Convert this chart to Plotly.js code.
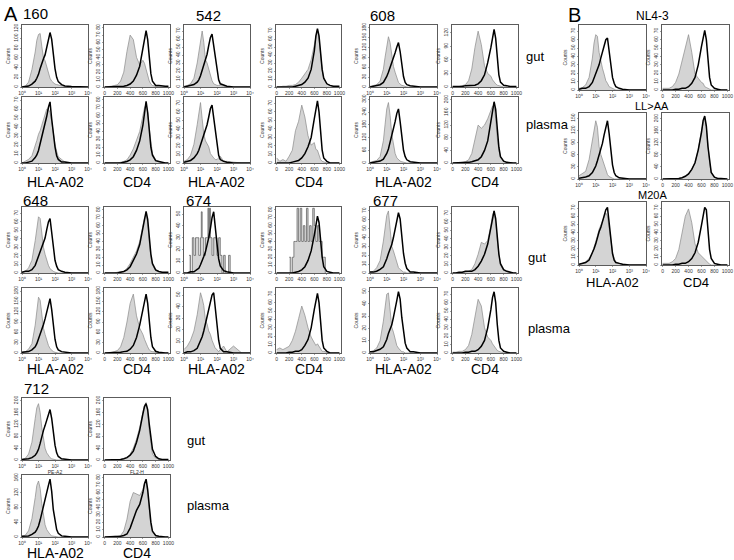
<!DOCTYPE html>
<html><head><meta charset="utf-8">
<script src="https://cdn.plot.ly/plotly-3.0.1.min.js"></script>
<style>html,body{margin:0;padding:0;background:#fff}#chart{width:734px;height:560px}</style>
</head><body><div id="chart"></div>
<script>
// ---------- shared x grids ----------
const hlaX = [1,1.6,2.5,4,6.3,7.9,10,12.6,15.8,20,25,31.6,40,50,63,79,100,126,158,251,398,1000,3160,10000];
const cd4X = [0,50,100,150,200,250,300,350,400,450,500,550,600,625,650,675,700,725,750,800,850,900,950,1000];
const spikeHlaX = [2.0,2.5,3.2,4.0,5.0,6.3,7.9,10,11.2,12.6,14.1,15.8,20,25,28.2,31.6,35.5,40,50,63,79,100,126,158,200,251,316,398,501,631,794,1000];
const spikeCd4X = [200,225,250,275,300,325,350,375,400,425,450,475,500,525,550,575,600,625,650,675,700,725,750,775];

// ---------- sample 160 ----------
const s160_gut_hla_fill  = [1,2,10,36,72,96,108,110,84,60,54,42,26,18,12,8,6,5,4,2,1,0,0,0];
const s160_gut_hla_line  = [0,1,2,6,12,18,26,38,50,58,66,82,96,112,98,66,38,20,11,5,2,1,0,0];
const s160_gut_cd4_fill  = [0,0,1,2,3,8,20,48,70,64,40,30,36,32,24,16,8,4,2,1,0,0,0,0];
const s160_gut_cd4_line  = [0,0,0,0,0,0,1,2,4,8,16,28,52,68,76,64,36,18,8,2,2,1,1,1];
const s160_pla_hla_fill  = [0,2,4,8,18,25,32,36,42,48,52,60,60,56,46,32,21,13,7,4,1,0,0,0];
const s160_pla_hla_line  = [0,0,1,2,6,9,14,21,28,35,42,52,62,68,49,32,18,8,4,1,1,0,0,0];
const s160_pla_cd4_fill  = [0,0,0,0,0,1,2,4,10,18,28,40,60,70,74,64,44,24,12,4,2,0,0,0];
const s160_pla_cd4_line  = [0,0,0,0,0,0,1,2,4,8,16,28,48,66,78,64,40,20,10,3,2,1,0,0];
// ---------- sample 542 ----------
const s542_gut_hla_fill  = [1,2,4,11,30,45,60,70,56,34,30,22,14,8,4,3,2,2,2,1,0,0,0,0];
const s542_gut_hla_line  = [0,1,2,3,6,9,14,21,30,36,41,52,62,66,52,34,19,9,4,2,1,0,0,0];
const s542_gut_cd4_fill  = [0,0,1,1,2,2,3,6,11,16,22,34,52,64,71,60,38,21,11,4,2,1,0,0];
const s542_gut_cd4_line  = [0,0,0,0,0,0,1,2,3,6,11,22,45,64,73,64,41,22,11,4,2,1,1,1];
const s542_pla_hla_fill  = [2,4,9,22,45,60,71,52,34,26,22,19,11,8,6,4,4,6,8,2,2,1,0,0];
const s542_pla_hla_line  = [1,2,3,6,11,15,21,26,32,38,45,54,64,68,52,34,19,9,4,2,1,0,0,0];
const s542_pla_cd4_fill  = [6,2,4,2,8,15,38,49,68,54,32,21,24,16,15,8,4,2,1,0,0,0,0,0];
const s542_pla_cd4_line  = [0,0,0,0,0,1,2,3,6,11,19,30,52,64,73,60,34,15,6,2,0,0,0,0];
// ---------- sample 608 ----------
const s608_gut_hla_fill  = [2,4,7,18,54,90,126,153,135,90,63,45,27,14,9,5,4,2,0,0,0,0,0,0];
const s608_gut_hla_line  = [0,2,4,7,14,22,32,45,59,72,86,104,122,135,108,63,32,14,7,4,2,0,0,0];
const s608_gut_cd4_fill  = [1,1,1,3,5,14,40,88,124,94,47,30,24,16,11,7,4,3,1,0,0,0,0,0];
const s608_gut_cd4_line  = [1,1,1,1,3,3,3,4,7,14,27,54,88,111,128,108,61,27,11,4,3,1,1,1];
const s608_pla_hla_fill  = [3,6,12,30,105,180,255,285,225,135,84,45,24,15,9,6,3,0,0,0,0,0,0,0];
const s608_pla_hla_line  = [0,3,6,9,18,30,45,66,96,126,156,195,234,255,195,120,60,30,15,6,3,0,0,0];
const s608_pla_cd4_fill  = [0,0,0,2,4,10,30,80,120,110,120,140,170,180,180,140,80,40,20,6,2,0,0,0];
const s608_pla_cd4_line  = [0,0,0,0,2,2,4,6,10,20,40,70,130,170,194,170,100,50,20,6,2,0,0,0];
// ---------- sample 648 ----------
const s648_gut_hla_fill  = [1,2,6,15,38,52,66,64,45,30,22,15,9,5,3,2,1,0,0,0,0,0,0,0];
const s648_gut_hla_line  = [1,2,2,4,9,14,19,25,30,35,41,51,60,64,49,30,15,8,4,2,1,0,0,0];
const s648_gut_cd4_fill  = [0,0,0,0,1,2,2,6,12,20,28,40,60,70,74,64,40,20,10,3,2,1,0,0];
const s648_gut_cd4_line  = [0,0,0,0,0,1,2,4,8,16,24,36,56,70,78,68,44,24,12,4,2,1,1,1];
const s648_pla_hla_fill  = [2,4,11,27,81,126,162,153,108,72,54,36,22,13,7,4,2,0,0,0,0,0,0,0];
const s648_pla_hla_line  = [2,2,4,9,18,27,40,54,68,83,99,122,144,158,126,76,40,18,9,4,2,0,0,0];
const s648_pla_cd4_fill  = [0,0,2,4,7,18,45,90,144,171,108,72,54,40,27,18,9,5,4,2,0,0,0,0];
const s648_pla_cd4_line  = [0,0,0,0,2,2,4,5,11,22,45,81,126,153,171,144,90,45,18,5,2,0,0,0];
// ---------- sample 674 ----------
const s674_gut_hla_fill  = [15,0,30,15,30,30,15,30,52,30,30,15,30,30,55,30,55,30,15,30,30,15,30,15,0,15,0,0,15,0,0,0];
const s674_gut_hla_line  = [0,0,1,1,3,4,7,10,14,18,23,30,38,47,52,41,25,12,6,2,1,0,0,0];
const s674_gut_cd4_fill  = [20,0,20,40,40,82,40,82,40,60,40,82,40,60,40,82,60,40,60,40,40,20,20,0];
const s674_gut_cd4_line  = [0,0,0,0,0,0,1,2,4,8,16,28,48,62,72,64,40,20,8,2,1,0,0,0];
const s674_pla_hla_fill  = [3,6,11,19,33,44,52,47,41,28,25,19,16,11,7,4,3,1,3,6,1,6,0,0];
const s674_pla_hla_line  = [0,1,1,2,4,7,10,14,19,25,30,36,43,50,52,38,22,11,4,1,1,0,0,0];
const s674_pla_cd4_fill  = [4,6,4,6,8,15,26,41,56,45,30,19,11,9,11,8,4,2,2,1,0,0,0,0];
const s674_pla_cd4_line  = [0,0,0,0,1,1,2,2,4,9,16,30,52,64,71,60,34,15,6,2,0,0,0,0];
// ---------- sample 677 ----------
const s677_gut_hla_fill  = [1,2,6,14,36,54,65,70,50,30,25,18,11,6,4,2,1,1,0,0,0,0,0,0];
const s677_gut_hla_line  = [1,1,2,4,7,11,16,22,27,32,40,49,59,68,61,40,22,11,5,1,1,0,0,0];
const s677_gut_cd4_fill  = [0,0,0,0,1,2,4,11,22,36,34,38,56,68,73,60,38,19,9,3,2,1,0,0];
const s677_gut_cd4_line  = [0,0,1,1,2,2,2,4,8,14,22,34,54,66,73,64,41,22,11,4,2,1,0,0];
const s677_pla_hla_fill  = [1,2,4,10,26,39,48,49,34,21,17,11,6,4,2,1,1,0,0,0,0,0,0,0];
const s677_pla_hla_line  = [1,1,2,3,5,8,11,16,20,23,29,35,43,50,44,29,16,8,4,1,1,0,0,0];
const s677_pla_cd4_fill  = [1,1,2,2,4,9,22,45,64,56,30,19,15,11,8,5,3,2,1,0,0,0,0,0];
const s677_pla_cd4_line  = [0,0,0,0,1,1,2,2,4,8,15,30,52,66,73,60,34,15,6,2,1,0,0,0];
// ---------- sample 712 ----------
const s712_gut_hla_fill  = [2,6,20,60,140,176,190,160,110,70,40,24,14,8,4,2,0,0,0,0,0,0,0,0];
const s712_gut_hla_line  = [2,2,4,8,16,24,36,56,80,100,116,136,160,170,140,90,50,24,12,4,2,0,0,0];
const s712_gut_cd4_fill  = [0,0,0,0,0,2,4,10,20,40,70,110,160,184,194,160,100,50,20,6,2,0,0,0];
const s712_gut_cd4_line  = [0,0,2,2,2,2,4,8,16,30,60,100,156,180,190,170,120,70,36,12,4,2,2,2];
const s712_pla_hla_fill  = [2,5,17,50,107,140,152,132,91,58,33,20,12,7,3,2,0,0,0,0,0,0,0,0];
const s712_pla_hla_line  = [2,2,3,7,13,20,30,46,66,83,99,119,140,157,124,74,41,20,10,3,2,0,0,0];
const s712_pla_cd4_fill  = [0,0,0,0,1,2,8,24,48,60,58,56,64,72,76,60,36,16,6,2,0,0,0,0];
const s712_pla_cd4_line  = [0,0,0,0,1,1,2,4,12,24,36,44,60,72,78,64,40,20,8,2,1,0,0,0];
// ---------- panel B mutants ----------
const nl43_hla_fill  = [2,3,6,15,38,56,66,64,45,34,26,19,11,8,4,3,2,1,0,0,0,0,0,0];
const nl43_hla_line  = [1,2,2,4,9,14,19,24,30,38,45,54,60,62,46,28,15,8,4,2,1,0,0,0];
const nl43_cd4_fill  = [2,2,2,4,9,19,34,52,66,45,19,14,9,8,4,3,2,1,0,0,0,0,0,0];
const nl43_cd4_line  = [0,0,0,0,1,1,2,2,4,8,15,30,52,64,71,60,34,15,6,2,1,0,0,0];
const llaa_hla_fill  = [8,13,19,48,96,128,144,128,80,61,48,32,19,11,6,3,2,0,0,0,0,0,0,0];
const llaa_hla_line  = [2,3,5,8,16,24,32,45,58,72,88,109,128,144,112,67,35,16,8,3,2,0,0,0];
const llaa_cd4_fill  = [0,0,0,0,0,2,4,9,17,32,54,97,161,189,204,172,108,54,22,6,2,0,0,0];
const llaa_cd4_line  = [0,0,0,0,0,2,4,9,17,32,54,97,155,194,209,176,108,54,22,6,2,2,0,0];
const m20a_hla_fill  = [1,2,4,8,15,21,28,36,44,49,54,60,64,60,45,30,16,8,4,2,1,0,0,0];
const m20a_hla_line  = [1,2,3,6,14,20,26,34,41,46,54,62,68,71,49,28,14,6,3,2,1,0,0,0];
const m20a_cd4_fill  = [2,2,2,4,8,19,38,60,69,52,26,15,11,9,6,4,2,1,0,0,0,0,0,0];
const m20a_cd4_line  = [0,0,0,0,1,1,2,2,4,8,15,28,49,62,71,68,41,19,8,2,1,0,0,0];

// ---------- tick labels ----------
const hlaTickVals = [1,10,100,1000,10000];
const hlaTickText = ['10\u2070','10\u00b9','10\u00b2','10\u00b3','10\u2074'];
const cd4TickVals = [0,200,400,600,800,1000];
const cd4TickText = ['0','200','400','600','800','1000'];

// ---------- panel placement (pixels: left, top, right, bottom) ----------
const W = 734, H = 560;
const colsA = [[22,88,104,170],[184,250,276,341],[370,437,452,518]];
const rowsA = [[25,87],[97,163],[207,273],[288,353],[398,460],[475,537]];
const colsB = [[579,646],[662,729]];
const rowsB = [[25,90],[113,179],[202,265]];

function P(kind, fill, line, yTop, dtick, box, opts) {
  return Object.assign({kind, fill, line, yTop, dtick, box}, opts || {});
}
function hb(c,r){return [colsA[c][0],rowsA[r][0],colsA[c][1],rowsA[r][1]];}
function cb(c,r){return [colsA[c][2],rowsA[r][0],colsA[c][3],rowsA[r][1]];}
function bb(c,r){return [colsB[c][0],rowsB[r][0],colsB[c][1],rowsB[r][1]];}

const panels = [
  P('hla', s160_gut_hla_fill, s160_gut_hla_line, 125, 20, hb(0,0)),
  P('cd4', s160_gut_cd4_fill, s160_gut_cd4_line, 82, 10, cb(0,0)),
  P('hla', s160_pla_hla_fill, s160_pla_hla_line, 72, 10, hb(0,1)),
  P('cd4', s160_pla_cd4_fill, s160_pla_cd4_line, 82, 10, cb(0,1)),
  P('hla', s542_gut_hla_fill, s542_gut_hla_line, 76, 10, hb(1,0)),
  P('cd4', s542_gut_cd4_fill, s542_gut_cd4_line, 76, 10, cb(1,0)),
  P('hla', s542_pla_hla_fill, s542_pla_hla_line, 76, 10, hb(1,1)),
  P('cd4', s542_pla_cd4_fill, s542_pla_cd4_line, 76, 10, cb(1,1)),
  P('hla', s608_gut_hla_fill, s608_gut_hla_line, 185, 30, hb(2,0)),
  P('cd4', s608_gut_cd4_fill, s608_gut_cd4_line, 135, 30, cb(2,0)),
  P('hla', s608_pla_hla_fill, s608_pla_hla_line, 305, 60, hb(2,1)),
  P('cd4', s608_pla_cd4_fill, s608_pla_cd4_line, 205, 40, cb(2,1)),
  P('hla', s648_gut_hla_fill, s648_gut_hla_line, 76, 10, hb(0,2)),
  P('cd4', s648_gut_cd4_fill, s648_gut_cd4_line, 82, 10, cb(0,2)),
  P('hla', s648_pla_hla_fill, s648_pla_hla_line, 185, 30, hb(0,3)),
  P('cd4', s648_pla_cd4_fill, s648_pla_cd4_line, 185, 30, cb(0,3)),
  P('hla', s674_gut_hla_fill, s674_gut_hla_line, 55, 10, hb(1,2), {spike:true}),
  P('cd4', s674_gut_cd4_fill, s674_gut_cd4_line, 82, 10, cb(1,2), {spike:true}),
  P('hla', s674_pla_hla_fill, s674_pla_hla_line, 55, 10, hb(1,3)),
  P('cd4', s674_pla_cd4_fill, s674_pla_cd4_line, 76, 10, cb(1,3)),
  P('hla', s677_gut_hla_fill, s677_gut_hla_line, 73, 10, hb(2,2)),
  P('cd4', s677_gut_cd4_fill, s677_gut_cd4_line, 76, 10, cb(2,2)),
  P('hla', s677_pla_hla_fill, s677_pla_hla_line, 52, 10, hb(2,3)),
  P('cd4', s677_pla_cd4_fill, s677_pla_cd4_line, 76, 10, cb(2,3)),
  P('hla', s712_gut_hla_fill, s712_gut_hla_line, 205, 40, hb(0,4), {xtitle:'PE-A2'}),
  P('cd4', s712_gut_cd4_fill, s712_gut_cd4_line, 205, 40, cb(0,4), {xtitle:'FL2-H'}),
  P('hla', s712_pla_hla_fill, s712_pla_hla_line, 165, 40, hb(0,5)),
  P('cd4', s712_pla_cd4_fill, s712_pla_cd4_line, 82, 10, cb(0,5)),
  P('hla', nl43_hla_fill, nl43_hla_line, 76, 10, bb(0,0)),
  P('cd4', nl43_cd4_fill, nl43_cd4_line, 76, 10, bb(1,0)),
  P('hla', llaa_hla_fill, llaa_hla_line, 160, 30, bb(0,1)),
  P('cd4', llaa_cd4_fill, llaa_cd4_line, 215, 40, bb(1,1)),
  P('hla', m20a_hla_fill, m20a_hla_line, 76, 10, bb(0,2)),
  P('cd4', m20a_cd4_fill, m20a_cd4_line, 76, 10, bb(1,2))
];

const FONT = 'Liberation Sans, Arial, Helvetica, sans-serif';
const data = [];
const layout = {
  width: W, height: H, margin: {l:0, r:0, t:0, b:0},
  paper_bgcolor: '#fff', plot_bgcolor: '#fff', showlegend: false,
  font: {family: FONT, color: '#000'}, annotations: []
};

panels.forEach((p, i) => {
  const n = i + 1;
  const xa = 'x' + (n === 1 ? '' : n), ya = 'y' + (n === 1 ? '' : n);
  const [l, t, r, b] = p.box;
  const isH = p.kind === 'hla';
  const fx = p.spike ? (isH ? spikeHlaX : spikeCd4X) : (isH ? hlaX : cd4X);
  const lx = isH ? hlaX : cd4X;
  data.push({x: fx, y: p.fill, xaxis: xa, yaxis: ya, type: 'scatter', mode: 'lines',
    fill: 'tozeroy', fillcolor: '#d4d4d4',
    line: {color: p.spike ? '#555' : '#8a8a8a', width: 0.7, shape: p.spike ? 'hv' : 'linear'},
    hoverinfo: 'skip'});
  data.push({x: lx, y: p.line, xaxis: xa, yaxis: ya, type: 'scatter', mode: 'lines',
    line: {color: '#000', width: 1.5}, hoverinfo: 'skip'});
  const axCommon = {showgrid: false, zeroline: false, showline: true, mirror: true,
    linecolor: '#333', linewidth: 0.8, ticks: 'outside', ticklen: 1.5, tickwidth: 0.5,
    tickcolor: '#444', tickfont: {size: 5, color: '#333', family: FONT}, fixedrange: true};
  const xkey = 'xaxis' + (n === 1 ? '' : n), ykey = 'yaxis' + (n === 1 ? '' : n);
  const xax = Object.assign({}, axCommon, {
    domain: [l / W, r / W], anchor: ya,
    type: isH ? 'log' : 'linear',
    range: isH ? [0, 4] : [-10, 1025],
    tickmode: 'array',
    tickvals: isH ? hlaTickVals : cd4TickVals,
    ticktext: isH ? hlaTickText : cd4TickText,
    tickangle: 0
  });
  if (p.xtitle) xax.title = {text: p.xtitle, font: {size: 5, color: '#333'}, standoff: 1};
  layout[xkey] = xax;
  const tv = [];
  for (let v = 0; v <= p.yTop + 0.01; v += p.dtick) tv.push(v);
  layout[ykey] = Object.assign({}, axCommon, {
    domain: [1 - b / H, 1 - t / H], anchor: xa,
    range: [0, p.yTop * 1.02],
    tickmode: 'array', tickvals: tv, ticktext: tv.map(String), tickangle: -90,
    title: {text: 'Counts', font: {size: 5, color: '#333'}, standoff: 1}
  });
});

function ann(text, px, py, size, xanchor) {
  layout.annotations.push({text, x: px / W, y: 1 - py / H, xref: 'paper', yref: 'paper',
    xanchor: xanchor || 'center', yanchor: 'middle', showarrow: false,
    font: {size, family: FONT, color: '#000'}});
}
// panel letters
ann('A', 2, 14, 20, 'left');
ann('B', 566, 15, 20, 'left');
// sample numbers
ann('160', 21, 13, 15, 'left');
ann('542', 194, 15, 15, 'left');
ann('608', 368, 15, 15, 'left');
ann('648', 21, 200, 15, 'left');
ann('674', 184, 200, 15, 'left');
ann('677', 371, 200, 15, 'left');
ann('712', 22, 388, 15, 'left');
// compartment labels
ann('gut', 524, 57, 13, 'left');
ann('plasma', 524, 125, 13, 'left');
ann('gut', 526, 258, 13, 'left');
ann('plasma', 526, 328, 13, 'left');
ann('gut', 185, 440, 13, 'left');
ann('plasma', 185, 505, 13, 'left');
// marker labels under the plasma rows
[182, 369].forEach(py => {
  colsA.forEach(cc => {
    ann('HLA-A02', (cc[0] + cc[1]) / 2, py, 14);
    ann('CD4', (cc[2] + cc[3]) / 2, py, 14);
  });
});
ann('HLA-A02', (colsA[0][0] + colsA[0][1]) / 2, 553, 14);
ann('CD4', (colsA[0][2] + colsA[0][3]) / 2, 553, 14);
ann('HLA-A02', (colsB[0][0] + colsB[0][1]) / 2, 282, 13);
ann('CD4', (colsB[1][0] + colsB[1][1]) / 2, 282, 13);
// mutant labels
ann('NL4-3', 652, 16, 12);
ann('LL>AA', 652, 106, 11);
ann('M20A', 652, 195, 11);

Plotly.newPlot('chart', data, layout, {staticPlot: true, displayModeBar: false});
</script></body></html>
